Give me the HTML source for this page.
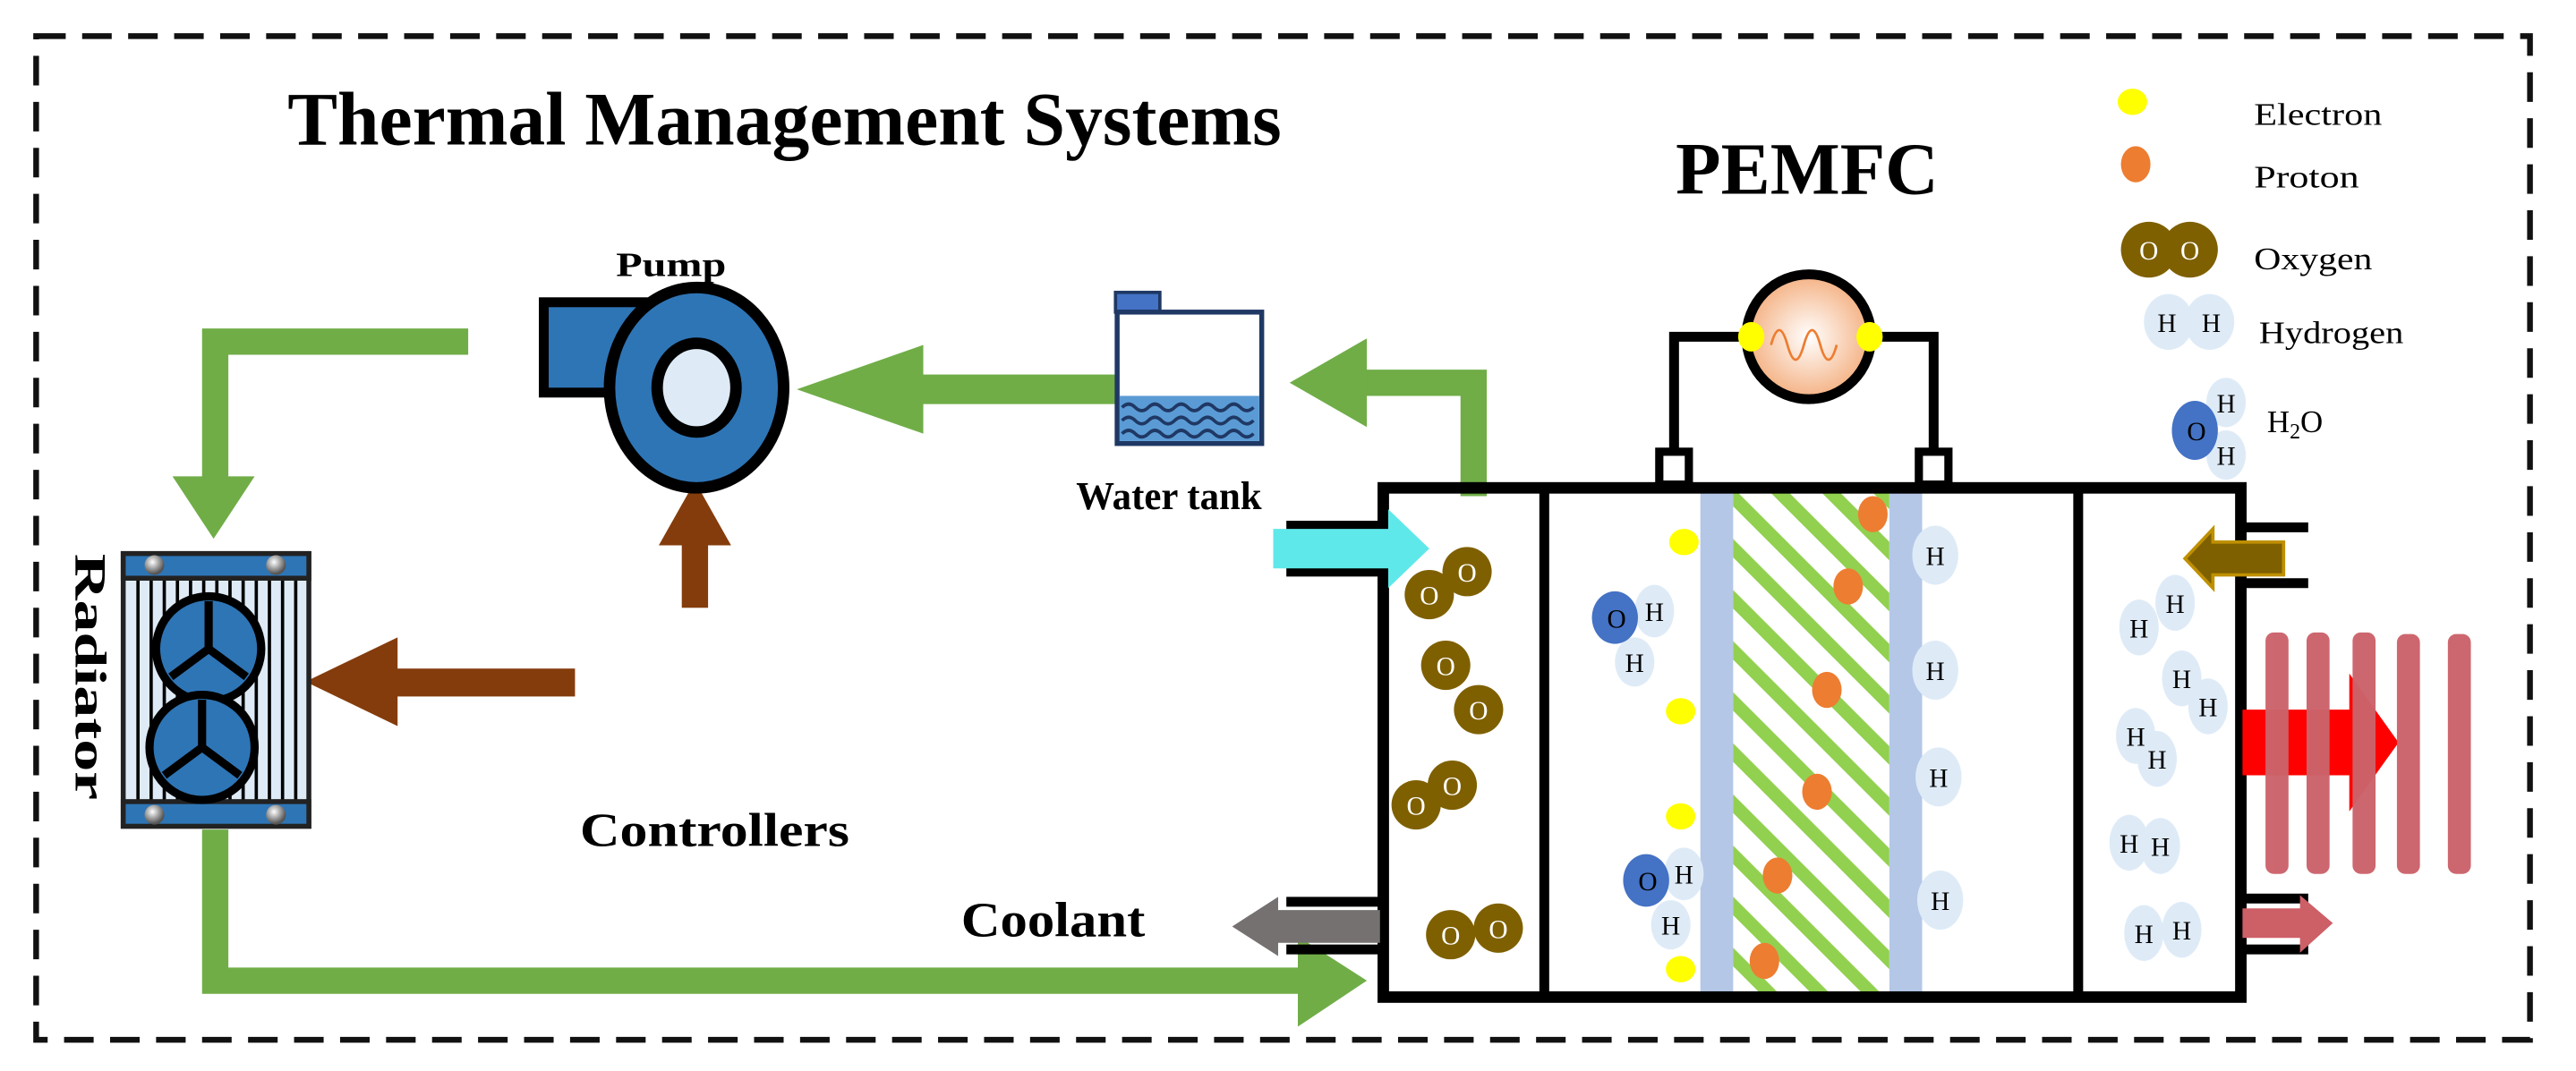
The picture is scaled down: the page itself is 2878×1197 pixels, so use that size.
<!DOCTYPE html>
<html><head><meta charset="utf-8"><style>
html,body{margin:0;padding:0;background:#fff;}
svg{display:block;}
text{font-family:"Liberation Serif",serif;}
</style></head><body>
<svg width="2878" height="1197" viewBox="0 0 1568 652" preserveAspectRatio="none" xmlns="http://www.w3.org/2000/svg">
<defs>
<pattern id="hatch" width="22" height="22" patternUnits="userSpaceOnUse" patternTransform="rotate(-45)">
<rect width="22" height="22" fill="#fff"/><rect x="0" y="0" width="8" height="22" fill="#92D050"/>
</pattern>
<radialGradient id="lamp" cx="0.5" cy="0.5" r="0.5"><stop offset="0" stop-color="#fff"/><stop offset="1" stop-color="#F4B183"/></radialGradient>
<radialGradient id="bolt" cx="0.4" cy="0.35" r="0.6"><stop offset="0" stop-color="#fff"/><stop offset="1" stop-color="#555"/></radialGradient>
</defs>
<rect x="22" y="22" width="1518" height="611" fill="none" stroke="#111" stroke-width="3.5" stroke-dasharray="18 10"/>
<text x="175" y="88" font-size="46" font-weight="bold" textLength="605" lengthAdjust="spacingAndGlyphs">Thermal Management Systems</text>
<text x="1020" y="118" font-size="45" font-weight="bold" textLength="160" lengthAdjust="spacingAndGlyphs">PEMFC</text>
<text x="375" y="168" font-size="21" font-weight="bold" textLength="67" lengthAdjust="spacingAndGlyphs">Pump</text>
<text x="655" y="310" font-size="24" font-weight="bold" textLength="113" lengthAdjust="spacingAndGlyphs">Water tank</text>
<text x="353" y="515" font-size="29" font-weight="bold" textLength="164" lengthAdjust="spacingAndGlyphs">Controllers</text>
<text x="585" y="570" font-size="30" font-weight="bold" textLength="112" lengthAdjust="spacingAndGlyphs">Coolant</text>
<text transform="translate(46,412) rotate(90)" font-size="27" font-weight="bold" text-anchor="middle" textLength="150" lengthAdjust="spacingAndGlyphs">Radiator</text>

<!-- green loop -->
<polyline points="285,208 131,208 131,295" fill="none" stroke="#70AD47" stroke-width="16"/>
<polygon points="105,290 155,290 130,328" fill="#70AD47"/>
<polyline points="131,505 131,597 790,597" fill="none" stroke="#70AD47" stroke-width="16"/>
<polygon points="790,570 790,625 832,597" fill="#70AD47"/>
<rect x="560" y="228" width="122" height="18" fill="#70AD47"/>
<polygon points="562,210 562,264 485,237" fill="#70AD47"/>
<polyline points="897,302 897,233 830,233" fill="none" stroke="#70AD47" stroke-width="16"/>
<polygon points="832,206 832,260 785,233" fill="#70AD47"/>

<!-- brown arrows -->
<rect x="415" y="330" width="16" height="40" fill="#843C0C"/>
<polygon points="401,332 445,332 423,293" fill="#843C0C"/>
<rect x="240" y="407" width="110" height="17" fill="#843C0C"/>
<polygon points="242,388 242,442 186,415" fill="#843C0C"/>

<!-- pump -->
<rect x="331" y="184" width="62" height="55" fill="#2E75B6" stroke="#000" stroke-width="6"/>
<ellipse cx="424" cy="236" rx="53" ry="61" fill="#2E75B6" stroke="#000" stroke-width="7"/>
<ellipse cx="424" cy="236" rx="24" ry="27" fill="#DEEBF7" stroke="#000" stroke-width="7"/>

<!-- water tank -->
<rect x="679" y="178" width="27" height="12" fill="#4472C4" stroke="#1F3864" stroke-width="2"/>
<rect x="680" y="190" width="88" height="80" fill="#fff" stroke="#1F3864" stroke-width="3"/>
<rect x="681.5" y="241" width="85" height="27.5" fill="#5B9BD5"/>
<path d="M683 248 q4 -4 8 0 t8 0 t8 0 t8 0 t8 0 t8 0 t8 0 t8 0 t8 0 t8 0 M683 256 q4 -4 8 0 t8 0 t8 0 t8 0 t8 0 t8 0 t8 0 t8 0 t8 0 t8 0 M683 264 q4 -4 8 0 t8 0 t8 0 t8 0 t8 0 t8 0 t8 0 t8 0 t8 0 t8 0" fill="none" stroke="#1F3864" stroke-width="2"/>

<!-- radiator -->
<rect x="75" y="337" width="113" height="166" fill="#DEEBF7" stroke="#222" stroke-width="3"/>
<g stroke="#000" stroke-width="2">
<line x1="84" y1="352" x2="84" y2="488"/><line x1="92" y1="352" x2="92" y2="488"/><line x1="100" y1="352" x2="100" y2="488"/><line x1="108" y1="352" x2="108" y2="488"/><line x1="116" y1="352" x2="116" y2="488"/><line x1="124" y1="352" x2="124" y2="488"/><line x1="132" y1="352" x2="132" y2="488"/><line x1="140" y1="352" x2="140" y2="488"/><line x1="148" y1="352" x2="148" y2="488"/><line x1="156" y1="352" x2="156" y2="488"/><line x1="164" y1="352" x2="164" y2="488"/><line x1="172" y1="352" x2="172" y2="488"/><line x1="180" y1="352" x2="180" y2="488"/>
</g>
<rect x="75" y="337" width="113" height="15" fill="#2E75B6" stroke="#222" stroke-width="3"/>
<rect x="75" y="488" width="113" height="15" fill="#2E75B6" stroke="#222" stroke-width="3"/>
<circle cx="94" cy="344" r="6" fill="url(#bolt)"/><circle cx="168" cy="344" r="6" fill="url(#bolt)"/>
<circle cx="94" cy="496" r="6" fill="url(#bolt)"/><circle cx="168" cy="496" r="6" fill="url(#bolt)"/>
<g fill="#2E75B6" stroke="#000" stroke-width="5">
<circle cx="127" cy="395" r="32"/><circle cx="123" cy="455" r="32"/>
</g>
<g stroke="#000" stroke-width="5" fill="none">
<path d="M127 366 V395 L104 412 M127 395 L150 412"/>
<path d="M123 426 V455 L100 472 M123 455 L146 472"/>
</g>

<!-- fuel cell -->
<rect x="1035" y="298" width="20" height="308" fill="#B4C7E7"/>
<rect x="1150" y="298" width="20" height="308" fill="#B4C7E7"/>
<rect x="1055" y="298" width="95" height="308" fill="url(#hatch)"/>
<rect x="842" y="297" width="522" height="310" fill="none" stroke="#000" stroke-width="7"/>
<line x1="940" y1="297" x2="940" y2="607" stroke="#000" stroke-width="6"/>
<line x1="1265" y1="297" x2="1265" y2="607" stroke="#000" stroke-width="6"/>
<rect x="1010" y="275" width="18" height="20" fill="#fff" stroke="#000" stroke-width="5"/>
<rect x="1168" y="275" width="18" height="20" fill="#fff" stroke="#000" stroke-width="5"/>
<polyline points="1019,275 1019,205 1062,205" fill="none" stroke="#000" stroke-width="6"/>
<polyline points="1177,275 1177,205 1140,205" fill="none" stroke="#000" stroke-width="6"/>
<circle cx="1101" cy="205" r="38" fill="url(#lamp)" stroke="#000" stroke-width="6"/>
<path d="M1078 210 q5 -18 10 0 t10 0 t10 0 t10 0" fill="none" stroke="#ED7D31" stroke-width="1.5"/>
<ellipse cx="1066" cy="205" rx="8" ry="9" fill="#FFFF00"/><ellipse cx="1138" cy="205" rx="8" ry="9" fill="#FFFF00"/>

<!-- inlet/outlet pipes -->
<g stroke="#000" stroke-width="6">
<line x1="783" y1="320" x2="842" y2="320"/><line x1="783" y1="348" x2="842" y2="348"/>
<line x1="783" y1="549" x2="842" y2="549"/><line x1="783" y1="578" x2="842" y2="578"/>
<line x1="1364" y1="321" x2="1405" y2="321"/><line x1="1364" y1="355" x2="1405" y2="355"/>
<line x1="1364" y1="547" x2="1405" y2="547"/><line x1="1364" y1="578" x2="1405" y2="578"/>
</g>
<polygon points="775,322 845,322 845,310 870,334 845,358 845,346 775,346" fill="#5FE8EA"/>
<polygon points="840,554 840,574 778,574 778,582 750,564 778,546 778,554" fill="#767171"/>
<polygon points="1390,330 1347,330 1347,322 1330,340 1347,358 1347,350 1390,350" fill="#7F6000" stroke="#BF9000" stroke-width="2"/>
<polygon points="1365,553 1400,553 1400,545 1420,562 1400,580 1400,571 1365,571" fill="#CD5F67"/>
<polygon points="1365,432 1430,432 1430,410 1460,452 1430,494 1430,472 1365,472" fill="#FF0000"/>
<g fill="#CC636B" opacity="0.97">
<rect x="1379" y="385" width="14" height="147" rx="5"/><rect x="1404" y="385" width="14" height="147" rx="5"/><rect x="1432" y="385" width="14" height="147" rx="5"/><rect x="1459" y="386" width="14" height="146" rx="5"/><rect x="1490" y="386" width="14" height="146" rx="5"/>
</g>

<!-- particles -->
<g fill="#7F6000">
<circle cx="870" cy="362" r="15"/><circle cx="893" cy="348" r="15"/>
<circle cx="880" cy="405" r="15"/><circle cx="900" cy="432" r="15"/>
<circle cx="862" cy="490" r="15"/><circle cx="884" cy="478" r="15"/>
<circle cx="883" cy="569" r="15"/><circle cx="912" cy="565" r="15"/>
<circle cx="1308" cy="152" r="17"/><circle cx="1333" cy="152" r="17"/>
</g>
<g font-size="16" fill="#fff" text-anchor="middle">
<text x="870" y="368">O</text><text x="893" y="354">O</text><text x="880" y="411">O</text><text x="900" y="438">O</text>
<text x="862" y="496">O</text><text x="884" y="484">O</text><text x="883" y="575">O</text><text x="912" y="571">O</text>
<text x="1308" y="158">O</text><text x="1333" y="158">O</text>
</g>
<g fill="#FFFF00">
<ellipse cx="1025" cy="330" rx="9" ry="8"/><ellipse cx="1023" cy="433" rx="9" ry="8"/><ellipse cx="1023" cy="497" rx="9" ry="8"/><ellipse cx="1023" cy="590" rx="9" ry="8"/>
<ellipse cx="1298" cy="62" rx="9" ry="8"/>
</g>
<g fill="#ED7D31">
<ellipse cx="1140" cy="313" rx="9" ry="11"/><ellipse cx="1125" cy="357" rx="9" ry="11"/><ellipse cx="1112" cy="420" rx="9" ry="11"/><ellipse cx="1106" cy="482" rx="9" ry="11"/><ellipse cx="1082" cy="533" rx="9" ry="11"/><ellipse cx="1074" cy="585" rx="9" ry="11"/>
<ellipse cx="1300" cy="100" rx="9" ry="11"/>
</g>
<g fill="#DEEBF7">
<ellipse cx="1178" cy="338" rx="14" ry="18"/><ellipse cx="1178" cy="408" rx="14" ry="18"/><ellipse cx="1180" cy="473" rx="14" ry="18"/><ellipse cx="1181" cy="548" rx="14" ry="18"/>
<ellipse cx="1007" cy="372" rx="12" ry="16"/><ellipse cx="995" cy="403" rx="12" ry="15"/>
<ellipse cx="1025" cy="532" rx="12" ry="16"/><ellipse cx="1017" cy="563" rx="12" ry="15"/>
<ellipse cx="1302" cy="382" rx="12" ry="17"/><ellipse cx="1324" cy="367" rx="12" ry="17"/>
<ellipse cx="1328" cy="413" rx="12" ry="17"/><ellipse cx="1344" cy="430" rx="12" ry="17"/>
<ellipse cx="1300" cy="448" rx="12" ry="17"/><ellipse cx="1313" cy="462" rx="12" ry="17"/>
<ellipse cx="1296" cy="513" rx="12" ry="17"/><ellipse cx="1315" cy="515" rx="12" ry="17"/>
<ellipse cx="1305" cy="568" rx="12" ry="17"/><ellipse cx="1328" cy="566" rx="12" ry="17"/>
<ellipse cx="1320" cy="196" rx="15" ry="17"/><ellipse cx="1345" cy="196" rx="15" ry="17"/>
<ellipse cx="1355" cy="245" rx="12" ry="15"/><ellipse cx="1355" cy="277" rx="12" ry="15"/>
</g>
<g fill="#4472C4">
<ellipse cx="983" cy="376" rx="14" ry="16"/><ellipse cx="1002" cy="536" rx="14" ry="16"/><ellipse cx="1336" cy="262" rx="14" ry="18"/>
</g>
<g font-size="16" fill="#000" text-anchor="middle">
<text x="1178" y="344">H</text><text x="1178" y="414">H</text><text x="1180" y="479">H</text><text x="1181" y="554">H</text>
<text x="984" y="382">O</text><text x="1007" y="378">H</text><text x="995" y="409">H</text>
<text x="1003" y="542">O</text><text x="1025" y="538">H</text><text x="1017" y="569">H</text>
<text x="1302" y="388">H</text><text x="1324" y="373">H</text><text x="1328" y="419">H</text><text x="1344" y="436">H</text>
<text x="1300" y="454">H</text><text x="1313" y="468">H</text><text x="1296" y="519">H</text><text x="1315" y="521">H</text>
<text x="1305" y="574">H</text><text x="1328" y="572">H</text>
<text x="1319" y="202">H</text><text x="1346" y="202">H</text>
<text x="1337" y="268">O</text><text x="1355" y="251">H</text><text x="1355" y="283">H</text>
</g>
<g font-size="19" fill="#000">
<text x="1372" y="76" textLength="78" lengthAdjust="spacingAndGlyphs">Electron</text>
<text x="1372" y="114" textLength="64" lengthAdjust="spacingAndGlyphs">Proton</text>
<text x="1372" y="164" textLength="72" lengthAdjust="spacingAndGlyphs">Oxygen</text>
<text x="1375" y="209" textLength="88" lengthAdjust="spacingAndGlyphs">Hydrogen</text>
<text x="1380" y="263">H<tspan font-size="13" dy="4">2</tspan><tspan dy="-4">O</tspan></text>
</g>
</svg>
</body></html>
